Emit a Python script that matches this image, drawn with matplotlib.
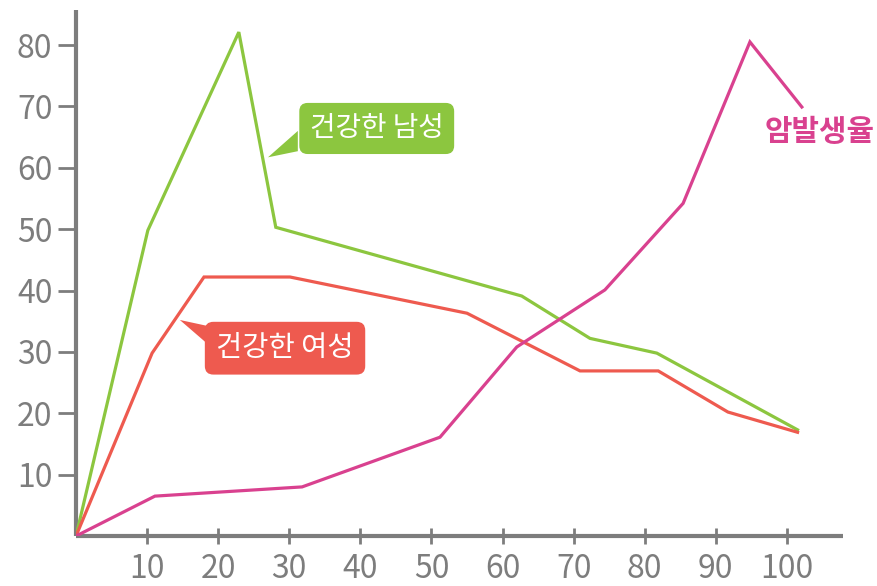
import matplotlib
matplotlib.use("Agg")
import matplotlib.pyplot as plt
from matplotlib.patches import Polygon

plt.rcParams['font.family'] = ['Noto Sans CJK KR', 'DejaVu Sans']

# Age axis (x) and rate values (y) for each curve
male_x = [0, 10.1, 22.9, 28.1, 62.7, 72.3, 81.7, 101.5]
male_y = [0, 49.8, 82.1, 50.3, 39.1, 32.2, 29.8, 17.3]

female_x = [0, 10.7, 18.0, 30.1, 55.0, 70.9, 81.9, 91.7, 101.5]
female_y = [0, 29.8, 42.2, 42.2, 36.3, 26.9, 26.9, 20.2, 16.9]

cancer_x = [0, 11.1, 31.8, 51.2, 62.0, 74.4, 85.4, 94.8, 102.1]
cancer_y = [0, 6.5, 8.0, 16.1, 30.8, 40.1, 54.2, 80.5, 69.9]

x_ticks = [10, 20, 30, 40, 50, 60, 70, 80, 90, 100]
y_ticks = [10, 20, 30, 40, 50, 60, 70, 80]

label_male = "건강한 남성"
label_female = "건강한 여성"
label_cancer = "암발생율"

GREEN = "#8cc63f"
RED = "#ee5a4f"
PINK = "#d9418f"
AXIS = "#7d7d7d"

fig = plt.figure(figsize=(8.77, 5.86), dpi=100)
ax = fig.add_axes([0.0867, 0.0853, 0.8746, 0.8976])

ax.plot(male_x, male_y, color=GREEN, lw=2.3, solid_joinstyle='miter', zorder=3)
ax.plot(female_x, female_y, color=RED, lw=2.3, solid_joinstyle='miter', zorder=3)
ax.plot(cancer_x, cancer_y, color=PINK, lw=2.3, solid_joinstyle='miter', zorder=4)

ax.set_xlim(0, 107.9)
ax.set_ylim(0, 85.7)
ax.set_xticks(x_ticks)
ax.set_yticks(y_ticks)
ax.set_xticklabels([str(v) for v in x_ticks])
ax.set_yticklabels([str(v) for v in y_ticks])

for side in ('top', 'right'):
    ax.spines[side].set_visible(False)
for side in ('left', 'bottom'):
    ax.spines[side].set_color(AXIS)
    ax.spines[side].set_linewidth(3)
    ax.spines[side].set_capstyle('butt')

ax.tick_params(axis='x', direction='inout', length=12, width=2, color=AXIS,
               labelcolor=AXIS, labelsize=23, pad=6)
ax.tick_params(axis='y', direction='out', length=13, width=2, color=AXIS,
               labelcolor=AXIS, labelsize=23, pad=4)
for lab in ax.get_xticklabels() + ax.get_yticklabels():
    lab.set_fontweight('light')

# Callout for the male curve
ax.add_patch(Polygon([(31.2, 66.0), (31.2, 62.7), (27.0, 61.7)], closed=True,
                     fc=GREEN, ec='none', zorder=5))
ax.text(42.3, 66.4, label_male, ha='center', va='center', fontsize=20,
        color='white', fontweight='medium', zorder=6,
        bbox=dict(boxstyle='round,pad=0.38,rounding_size=0.3', fc=GREEN, ec='none'))

# Callout for the female curve
ax.add_patch(Polygon([(18.6, 34.2), (18.8, 31.0), (14.6, 35.2)], closed=True,
                     fc=RED, ec='none', zorder=5))
ax.text(29.4, 30.6, label_female, ha='center', va='center', fontsize=20.5,
        color='white', fontweight='medium', zorder=6,
        bbox=dict(boxstyle='round,pad=0.4,rounding_size=0.3', fc=RED, ec='none'))

# Label for the cancer incidence curve
ax.text(104.6, 65.8, label_cancer, ha='center', va='center', fontsize=21.5,
        color=PINK, fontweight='bold', zorder=6, clip_on=False)

fig.savefig("out.png", dpi=100)
